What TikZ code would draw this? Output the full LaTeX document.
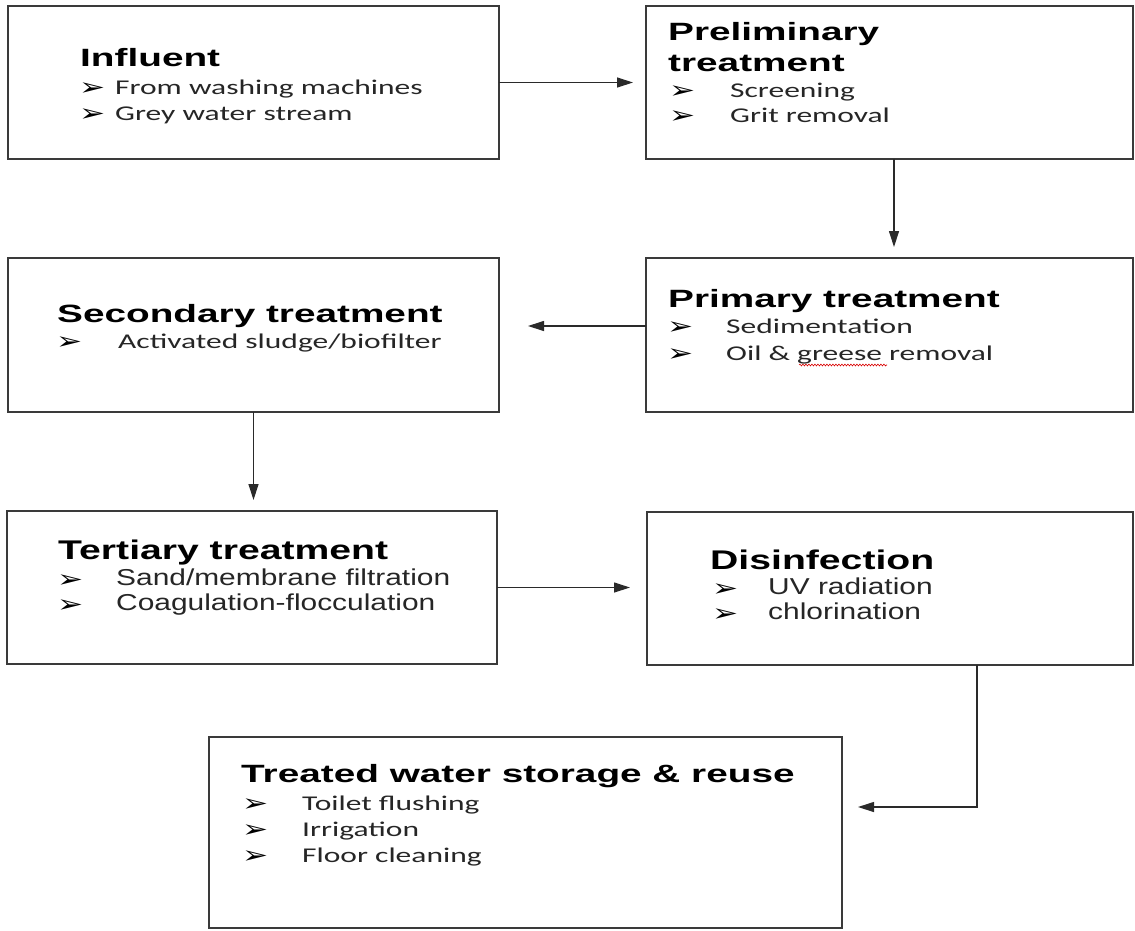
\documentclass[tikz,border=0pt]{standalone}
\usepackage{fontspec}
\usetikzlibrary{arrows.meta,decorations.pathmorphing,calc}
\newfontfamily\ttlfont[FakeStretch=1.55]{Liberation Sans}
\newfontfamily\txtfont[FakeStretch=1.5]{Carlito}
\newfontfamily\nttlfont[FakeStretch=1.45]{Liberation Sans}
\newfontfamily\ntxtfont[FakeStretch=1.3]{Liberation Sans}
\newfontfamily\bulfont[FakeStretch=1.3]{DejaVu Sans}
\definecolor{boxgray}{HTML}{3A3A3A}
\definecolor{linegray}{HTML}{2A2A2A}
\definecolor{txtgray}{HTML}{262626}
\tikzset{
  box/.style={draw=boxgray, line width=1.6pt, rectangle, inner sep=0pt, outer sep=0pt, anchor=north west},
  conn/.style={draw=linegray, line width=1.2pt, -{Triangle[length=16pt,width=10pt]}},
  ttl/.style={anchor=base west, inner sep=0pt, text=black, font=\ttlfont\bfseries\fontsize{25}{30}\selectfont},
  txt/.style={anchor=base west, inner sep=0pt, text=txtgray, font=\txtfont\fontsize{21}{25}\selectfont},
  nttl/.style={anchor=base west, inner sep=0pt, text=black, font=\nttlfont\bfseries\fontsize{27}{31}\selectfont},
  ntxt/.style={anchor=base west, inner sep=0pt, text=txtgray, font=\ntxtfont\fontsize{23}{27}\selectfont},
  bul/.style={anchor=base west, inner sep=0pt, text=black, text height=9pt, text depth=0pt, font=\bulfont\fontsize{24}{26}\selectfont},
}
\begin{document}
\begin{tikzpicture}[x=1pt,y=-1pt]
\useasboundingbox[fill=white] (0,0) rectangle (1135,930);

% boxes
\node[box, minimum width=491pt, minimum height=153pt] (b1) at (8,6) {};
\node[box, minimum width=487pt, minimum height=153pt] (b2) at (646,6) {};
\node[box, minimum width=491pt, minimum height=154pt] (b3) at (8,258) {};
\node[box, minimum width=487pt, minimum height=154pt] (b4) at (646,258) {};
\node[box, minimum width=490pt, minimum height=153pt] (b5) at (7,511) {};
\node[box, minimum width=486pt, minimum height=153pt] (b6) at (647,512) {};
\node[box, minimum width=633pt, minimum height=191pt] (b7) at (209,737) {};

% Influent
\node[ttl] (t1) at (80,66) {Influent};
\node[bul] (u11) at (79,95) {➢};
\node[txt] (x11) at (115,94) {From washing machines};
\node[bul] (u12) at (79,121) {➢};
\node[txt] (x12) at (115,120) {Grey water stream};

% Preliminary
\node[ttl] (t2a) at (668,40) {Preliminary};
\node[ttl] (t2b) at (668,71) {treatment};
\node[bul] (u21) at (669,98) {➢};
\node[txt] (x21) at (730,97) {Screening};
\node[bul] (u22) at (669,123) {➢};
\node[txt] (x22) at (730,122) {Grit removal};

% Secondary
\node[ttl] (t3) at (57,322) {Secondary treatment};
\node[bul] (u31) at (56,349) {➢};
\node[txt] (x31) at (118,348) {Activated sludge/biofilter};

% Primary
\node[ttl] (t4) at (668,307) {Primary treatment};
\node[bul] (u41) at (667,334) {➢};
\node[txt] (x41) at (726,333) {Sedimentation};
\node[bul] (u42) at (667,361) {➢};
\node[txt] (x42) at (726,360) {Oil \& greese removal};
\coordinate (sq1) at (799,365);
\coordinate (sq2) at (887,365);
\draw[red!85!black, line width=0.6pt, decorate, decoration={snake, amplitude=0.9pt, segment length=3pt}] (sq1) -- (sq2);

% Tertiary
\node[nttl] (t5) at (58,559) {Tertiary treatment};
\node[bul] (u51) at (57,587) {➢};
\node[ntxt] (x51) at (116,585) {Sand/membrane filtration};
\node[bul] (u52) at (57,612) {➢};
\node[ntxt] (x52) at (116,610) {Coagulation-flocculation};

% Disinfection
\node[nttl] (t6) at (710,569) {Disinfection};
\node[bul] (u61) at (712,596) {➢};
\node[ntxt] (x61) at (768,594) {UV radiation};
\node[bul] (u62) at (712,621) {➢};
\node[ntxt] (x62) at (768,619) {chlorination};

% Treated water
\node[ttl] (t7) at (241,782) {Treated water storage \& reuse};
\node[bul] (u71) at (242,811) {➢};
\node[txt] (x71) at (302,810) {Toilet flushing};
\node[bul] (u72) at (242,837) {➢};
\node[txt] (x72) at (302,836) {Irrigation};
\node[bul] (u73) at (242,863) {➢};
\node[txt] (x73) at (302,862) {Floor cleaning};

% connectors
\coordinate (p2) at (894,0);
\coordinate (p6) at (977,0);
\draw[conn] (b1.east) -- ([xshift=-13pt]b2.west |- b1.east);
\draw[conn] (p2 |- b2.south) -- ([yshift=11pt]p2 |- b4.north);
\draw[conn] ([yshift=9pt]b4.west) -- ([xshift=29pt,yshift=9pt]b3.east);
\draw[conn] (b3.south) -- ([yshift=11pt]b3.south |- b5.north);
\draw[conn] (b5.east) -- ([xshift=-17pt]b6.west |- b5.east);
\draw[conn] (p6 |- b6.south) |- ([xshift=16pt,yshift=25.5pt]b7.east);
\end{tikzpicture}
\end{document}
